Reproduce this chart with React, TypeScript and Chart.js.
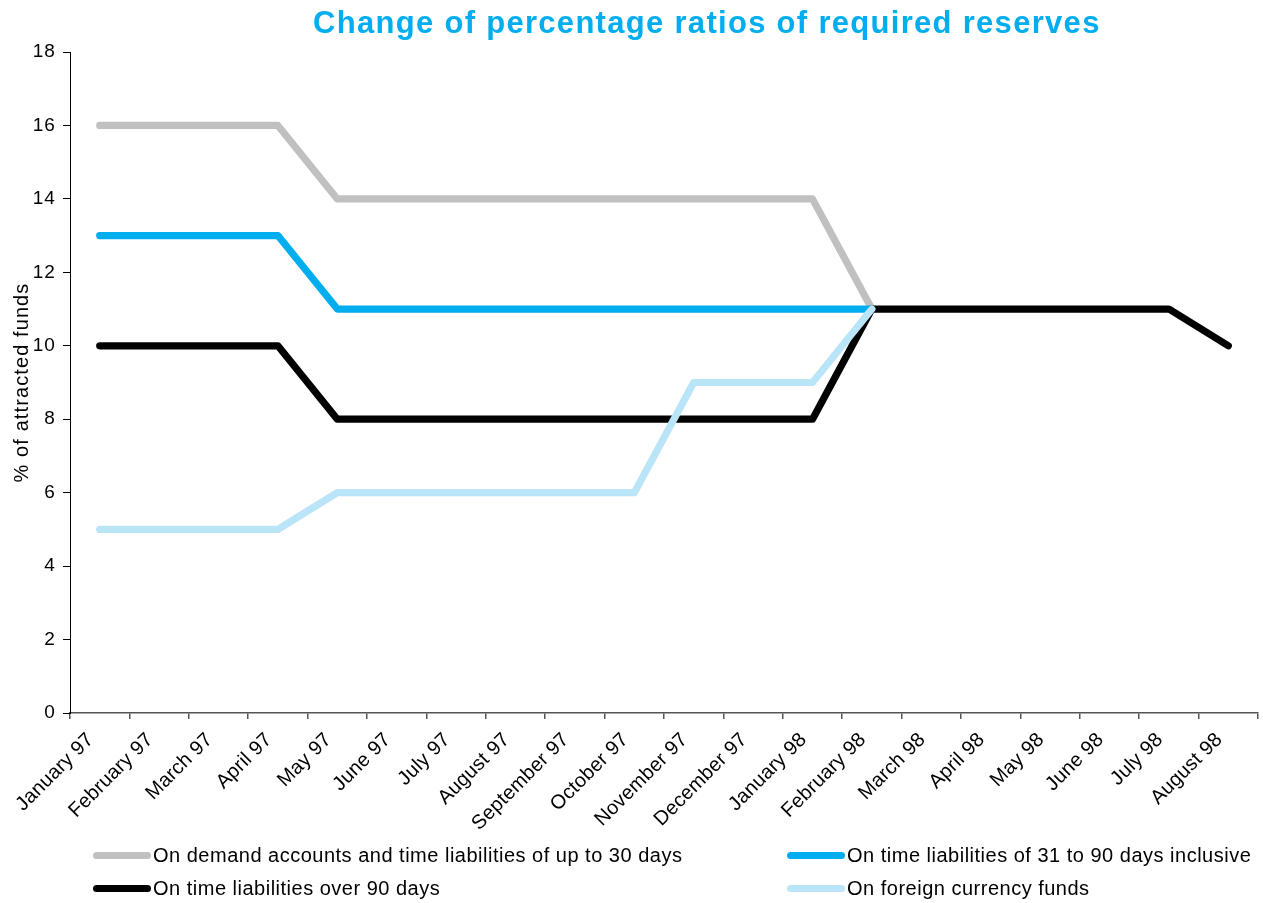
import React, { useEffect, useRef } from "react";
import { Chart, registerables } from "chart.js";

Chart.register(...registerables);

const categories = [
  "January 97", "February 97", "March 97", "April 97", "May 97", "June 97",
  "July 97", "August 97", "September 97", "October 97", "November 97", "December 97",
  "January 98", "February 98", "March 98", "April 98", "May 98", "June 98",
  "July 98", "August 98",
];

const demandUpTo30: (number | null)[] = [16, 16, 16, 16, 14, 14, 14, 14, 14, 14, 14, 14, 14, 11, null, null, null, null, null, null];
const time31to90: (number | null)[] = [13, 13, 13, 13, 11, 11, 11, 11, 11, 11, 11, 11, 11, 11, null, null, null, null, null, null];
const timeOver90: (number | null)[] = [10, 10, 10, 10, 8, 8, 8, 8, 8, 8, 8, 8, 8, 11, 11, 11, 11, 11, 11, 10];
const foreignCurrency: (number | null)[] = [5, 5, 5, 5, 6, 6, 6, 6, 6, 6, 9, 9, 9, 11, null, null, null, null, null, null];

const seriesLabels = [
  "On demand accounts and time liabilities of up to 30 days",
  "On time liabilities of 31 to 90 days inclusive",
  "On time liabilities over 90 days",
  "On foreign currency funds",
];
const seriesColors = ["#c0c0c0", "#00aeef", "#000000", "#bae5f9"];
const seriesData = [demandUpTo30, time31to90, timeOver90, foreignCurrency];
const seriesOrder = [3, 2, 1, 0];

const yTicks = [0, 2, 4, 6, 8, 10, 12, 14, 16, 18];

const titleText = "Change of percentage ratios of required reserves";
const yTitle = "% of attracted funds";

const FONT = "'Liberation Sans', Arial, Helvetica, sans-serif";

function withLetterSpacing(spacing: string) {
  return (scale: any) => {
    if (scale.__spacingPatched) return;
    scale.__spacingPatched = true;
    const orig = scale.draw;
    scale.draw = function (area: any) {
      const ctx = this.ctx;
      const prev = ctx.letterSpacing;
      try {
        ctx.letterSpacing = spacing;
      } catch (e) {
        /* ignore */
      }
      orig.call(this, area);
      try {
        ctx.letterSpacing = prev || "0px";
      } catch (e) {
        /* ignore */
      }
    };
  };
}

export default function App() {
  const ref = useRef<HTMLCanvasElement | null>(null);

  useEffect(() => {
    if (!ref.current) return;
    const chart = new Chart(ref.current, {
      type: "line",
      data: {
        labels: categories,
        datasets: seriesData.map((d, i) => ({
          label: seriesLabels[i],
          data: d,
          borderColor: seriesColors[i],
          backgroundColor: seriesColors[i],
          borderWidth: 7.2,
          pointRadius: 0,
          pointHoverRadius: 0,
          tension: 0,
          fill: false,
          spanGaps: false,
          borderCapStyle: "round",
          borderJoinStyle: "round",
          order: seriesOrder[i],
        })),
      },
      options: {
        animation: false,
        responsive: false,
        maintainAspectRatio: false,
        layout: { padding: { left: 0, right: 5, top: 52, bottom: 60 } },
        plugins: {
          legend: { display: false },
          title: { display: false },
          tooltip: { enabled: false },
        },
        scales: {
          x: {
            type: "category",
            offset: true,
            grid: {
              offset: true,
              drawOnChartArea: false,
              drawTicks: true,
              tickLength: 6,
              color: "#555",
              lineWidth: 1.5,
            },
            border: { color: "#555", width: 1.5 },
            ticks: {
              autoSkip: false,
              maxRotation: 45,
              minRotation: 45,
              color: "#000",
              padding: 9,
              labelOffset: -9,
              font: { family: FONT, size: 20 },
            },
            afterFit: (scale: any) => {
              scale.height = 130;
            },
            afterUpdate: withLetterSpacing("0.2px"),
          },
          y: {
            min: 0,
            max: 18,
            afterBuildTicks: (scale: any) => {
              scale.ticks = yTicks.map((v) => ({ value: v }));
            },
            grid: {
              drawOnChartArea: false,
              drawTicks: true,
              tickLength: 7,
              color: "#000",
              lineWidth: 1,
            },
            border: { color: "#000", width: 1 },
            ticks: {
              color: "#000",
              padding: 7,
              font: { family: FONT, size: 19 },
            },
            title: {
              display: true,
              text: yTitle,
              color: "#000",
              font: { family: FONT, size: 20 },
              padding: { top: 10, bottom: 0 },
            },
            afterFit: (scale: any) => {
              scale.width = 70;
            },
            afterUpdate: withLetterSpacing("1.1px"),
          },
        },
      },
    });
    return () => chart.destroy();
  }, []);

  const legendPos = [
    { left: 93, top: 855 },
    { left: 787, top: 855 },
    { left: 93, top: 888 },
    { left: 787, top: 888 },
  ];

  return (
    <div style={{ position: "fixed", left: 0, top: 0, width: 1263, height: 903, background: "#fff", overflow: "hidden" }}>
      <canvas ref={ref} width={1263} height={903} style={{ position: "absolute", left: 0, top: 0, width: 1263, height: 903 }} />
      <div
        style={{
          position: "absolute",
          left: 313,
          top: 4,
          fontFamily: FONT,
          fontWeight: 700,
          fontSize: 31,
          letterSpacing: "1.3px",
          lineHeight: "38px",
          color: "#00aeef",
          whiteSpace: "nowrap",
        }}
      >
        {titleText}
      </div>
      {seriesLabels.map((lab, i) => (
        <div
          key={lab}
          style={{
            position: "absolute",
            left: legendPos[i].left,
            top: legendPos[i].top - 12,
            height: 24,
            display: "flex",
            alignItems: "center",
            fontFamily: FONT,
            fontSize: 20,
            letterSpacing: "0.5px",
            color: "#000",
            whiteSpace: "nowrap",
          }}
        >
          <span
            style={{
              display: "inline-block",
              width: 58,
              height: 7,
              borderRadius: 4,
              background: seriesColors[i],
              marginRight: 2,
            }}
          />
          <span>{lab}</span>
        </div>
      ))}
    </div>
  );
}
